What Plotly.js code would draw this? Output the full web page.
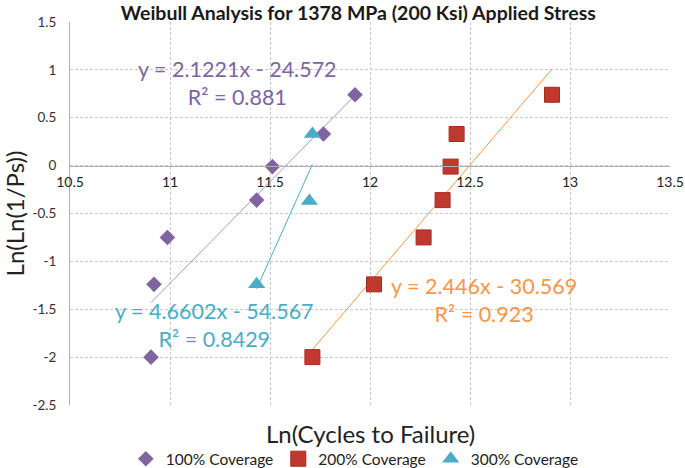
<!DOCTYPE html>
<html>
<head>
<meta charset="utf-8">
<script src="https://cdn.plot.ly/plotly-3.0.1.min.js"></script>
<style>
  html, body { margin: 0; padding: 0; background: #fff; }
  #chart { width: 685px; height: 468px; }
</style>
</head>
<body>
<div id="chart"></div>
<script>
// === DATA ===
const seriesNames = ["100% Coverage", "200% Coverage", "300% Coverage"];

const x100 = [10.905, 10.92, 10.987, 11.433, 11.512, 11.767, 11.925];
const y100 = [-2.0, -1.24, -0.75, -0.36, -0.01, 0.33, 0.74];

const x200 = [11.712, 12.02, 12.268, 12.363, 12.403, 12.433, 12.91];
const y200 = [-2.0, -1.24, -0.75, -0.36, -0.01, 0.33, 0.74];

const x300 = [11.433, 11.697, 11.712];
const y300 = [-1.24, -0.37, 0.33];

// trendline coefficients as printed on the chart: [slope, intercept, R2]
const fit100 = [2.1221, -24.572, 0.881];
const fit200 = [2.446, -30.569, 0.923];
const fit300 = [4.6602, -54.567, 0.8429];

const xTickVals = [10.5, 11, 11.5, 12, 12.5, 13, 13.5];
const xTickText = ["10.5", "11", "11.5", "12", "12.5", "13", "13.5"];
const yTickVals = [-2.5, -2, -1.5, -1, -0.5, 0, 0.5, 1, 1.5];
const yTickText = ["-2.5", "-2", "-1.5", "-1", "-0.5", "0", "0.5", "1", "1.5"];

// === HELPERS ===
function trendTrace(xs, fit, color) {
  const lo = Math.min(...xs), hi = Math.max(...xs);
  return {
    x: [lo, hi],
    y: [fit[0] * lo + fit[1], fit[0] * hi + fit[1]],
    type: "scatter",
    mode: "lines",
    line: { color: color, width: 1 },
    showlegend: false,
    hoverinfo: "skip"
  };
}

function eqText(fit) {
  const sign = fit[1] < 0 ? " - " : " + ";
  return "y = " + fit[0] + "x" + sign + Math.abs(fit[1]) + "<br>R² = " + fit[2];
}

const FONT = "Lato, 'Open Sans', sans-serif";
const purple = "#8064a2", red = "#c0392f", cyan = "#4bacc6", orange = "#f79646";

// === TRACES ===
const traces = [
  trendTrace(x100, fit100, "#a597c8"),
  trendTrace(x200, fit200, orange),
  trendTrace(x300, fit300, cyan),
  {
    x: x100, y: y100, type: "scatter", mode: "markers", name: seriesNames[0],
    marker: { symbol: "diamond", size: 12, color: purple }
  },
  {
    x: x200, y: y200, type: "scatter", mode: "markers", name: seriesNames[1],
    marker: { symbol: "square", size: 15, color: red, line: { color: "#a82a25", width: 1 } }
  },
  {
    x: x300, y: y300, type: "scatter", mode: "markers", name: seriesNames[2],
    marker: { symbol: "triangle-up", size: 15, color: cyan }
  }
];

// === LAYOUT ===
const layout = {
  width: 685,
  height: 468,
  margin: { l: 70, r: 15, t: 22, b: 63, autoexpand: false },
  paper_bgcolor: "#fff",
  plot_bgcolor: "#fff",
  font: { family: FONT, color: "#404040" },
  title: {
    text: "<b>Weibull Analysis for 1378 MPa (200 Ksi) Applied Stress</b>",
    font: { family: FONT, size: 19.5, color: "#1a1a1a" },
    xref: "container", x: 0.523, xanchor: "center",
    yref: "container", y: 0.972, yanchor: "middle"
  },
  xaxis: {
    range: [10.5, 13.5],
    tickvals: xTickVals,
    ticktext: xTickText,
    anchor: "free",
    position: 0.625,
    showline: true,
    linecolor: "#b0b0b0",
    linewidth: 1,
    showgrid: true,
    gridcolor: "#c8c8c8",
    griddash: "3px,2px",
    zeroline: false,
    ticks: "",
    ticklabelstandoff: 4,
    automargin: false,
    tickfont: { family: FONT, size: 14, color: "#222" }
  },
  yaxis: {
    range: [-2.5, 1.5],
    tickvals: yTickVals,
    ticktext: yTickText,
    showline: true,
    linecolor: "#b0b0b0",
    linewidth: 1,
    showgrid: true,
    gridcolor: "#c8c8c8",
    griddash: "3px,2px",
    zeroline: false,
    ticks: "",
    ticklabelstandoff: 10,
    automargin: false,
    tickfont: { family: FONT, size: 13.5, color: "#333" },
    title: { text: "Ln(Ln(1/Ps))", font: { family: FONT, size: 24, color: "#222" }, standoff: 10 }
  },
  legend: {
    orientation: "h",
    xref: "container", x: 0.518, xanchor: "center",
    yref: "container", y: 0.019, yanchor: "middle",
    font: { family: FONT, size: 15.5, color: "#222" },
    itemwidth: 30,
    tracegroupgap: 0,
    bgcolor: "rgba(0,0,0,0)"
  },
  annotations: [
    {
      text: "Ln(Cycles to Failure)", xref: "paper", yref: "paper",
      x: 0.5, y: -0.074, xanchor: "center", yanchor: "middle", showarrow: false,
      font: { family: FONT, size: 24, color: "#222" }
    },
    {
      text: eqText(fit100), xref: "x", yref: "y", x: 11.335, y: 0.858,
      xanchor: "center", yanchor: "middle", align: "center", showarrow: false,
      font: { family: FONT, size: 21.5, color: purple }
    },
    {
      text: eqText(fit300), xref: "x", yref: "y", x: 11.22, y: -1.66,
      xanchor: "center", yanchor: "middle", align: "center", showarrow: false,
      font: { family: FONT, size: 21.5, color: cyan }
    },
    {
      text: eqText(fit200), xref: "x", yref: "y", x: 12.57, y: -1.40,
      xanchor: "center", yanchor: "middle", align: "center", showarrow: false,
      font: { family: FONT, size: 21.5, color: orange }
    }
  ]
};

Plotly.newPlot("chart", traces, layout, { displayModeBar: false, staticPlot: true });
</script>
</body>
</html>
